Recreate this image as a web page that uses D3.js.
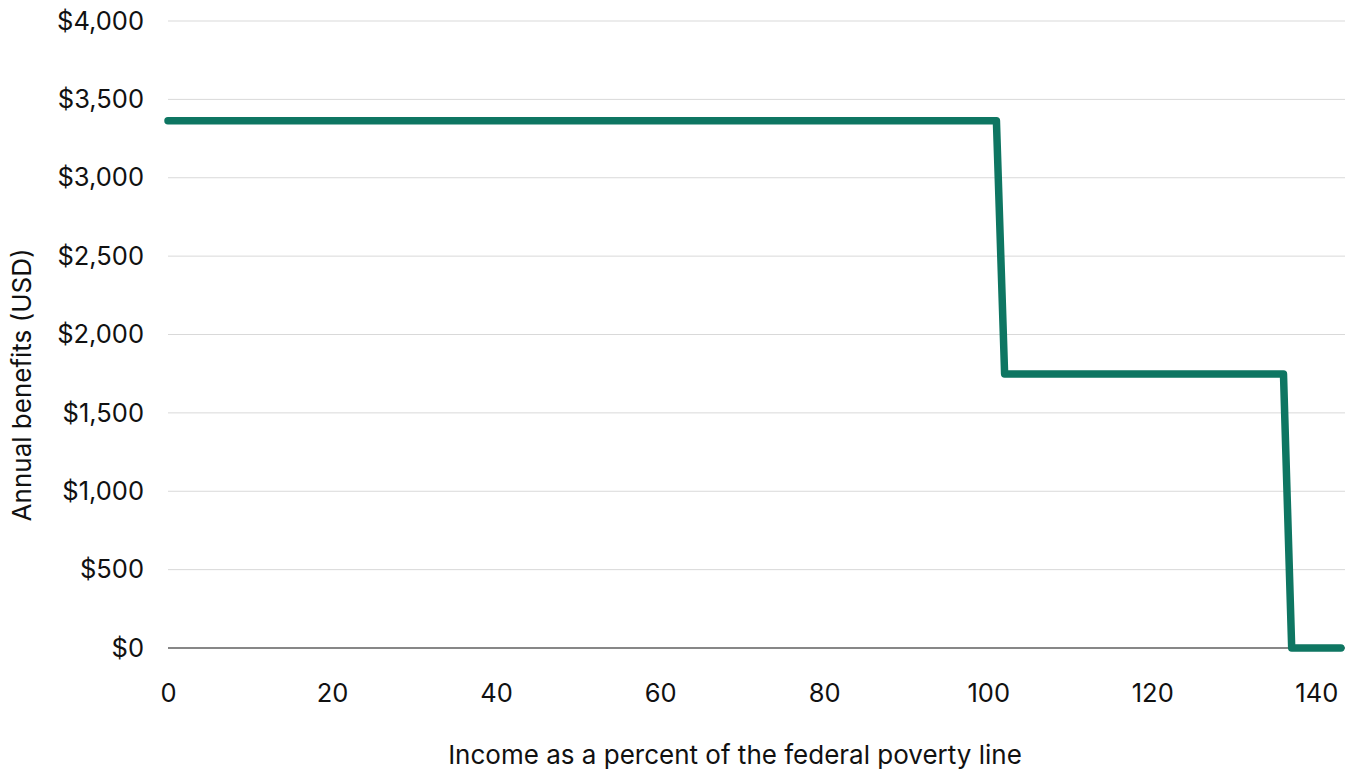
<!DOCTYPE html>
<html>
<head>
<meta charset="utf-8">
<script src="https://cdn.jsdelivr.net/npm/d3@7"></script>
<style>
  body { margin: 0; background: #fff; }
  svg text { font-family: "Inter", "Noto Sans", sans-serif; fill: #111; }
</style>
</head>
<body>
<svg id="chart" width="1349" height="769"></svg>
<script>
// Benefit cliff data: income (% FPL) -> annual benefits (USD)
const incomePct = [0, 101, 102, 136, 137, 143];
const benefits = [3364, 3364, 1748, 1748, 0, 0];
const xTicks = [0, 20, 40, 60, 80, 100, 120, 140];
const yTicks = [0, 500, 1000, 1500, 2000, 2500, 3000, 3500, 4000];

const svg = d3.select("#chart");
const margin = { top: 21, right: 4, bottom: 121, left: 168 };
const width = 1349 - margin.left - margin.right;
const height = 769 - margin.top - margin.bottom;

const g = svg.append("g")
  .attr("transform", `translate(${margin.left},${margin.top})`);

const x = d3.scaleLinear().domain([0, 143.5]).range([0, width]);
const y = d3.scaleLinear().domain([0, 4000]).range([height, 0]);

// gridlines
g.selectAll("line.grid")
  .data(yTicks.filter(d => d > 0))
  .enter().append("line")
  .attr("class", "grid")
  .attr("x1", 0).attr("x2", width)
  .attr("y1", d => y(d)).attr("y2", d => y(d))
  .attr("stroke", "#d9d9d9").attr("stroke-width", 1);

// zero line
g.append("line")
  .attr("x1", 0).attr("x2", width)
  .attr("y1", y(0)).attr("y2", y(0))
  .attr("stroke", "#111").attr("stroke-width", 1.2);

// y axis labels
const yAxis = d3.axisLeft(y).tickValues(yTicks)
  .tickFormat(d => "$" + d3.format(",")(d))
  .tickSize(0).tickPadding(24);
g.append("g").call(yAxis)
  .call(a => a.select(".domain").remove())
  .selectAll("text").attr("font-size", 25.5);

// x axis labels
const xAxis = d3.axisBottom(x).tickValues(xTicks).tickSize(0).tickPadding(36);
g.append("g").attr("transform", `translate(0,${height})`).call(xAxis)
  .call(a => a.select(".domain").remove())
  .selectAll("text").attr("font-size", 25.5);

// the line
const line = d3.line()
  .x((d, i) => x(incomePct[i]))
  .y(d => y(d));

g.append("path")
  .datum(benefits)
  .attr("d", line)
  .attr("fill", "none")
  .attr("stroke", "#0e7662")
  .attr("stroke-width", 7.5)
  .attr("stroke-linejoin", "round")
  .attr("stroke-linecap", "round");

// axis titles
svg.append("text")
  .attr("x", 735).attr("y", 764)
  .attr("text-anchor", "middle")
  .attr("font-size", 26)
  .text("Income as a percent of the federal poverty line");

svg.append("text")
  .attr("transform", "translate(31,385) rotate(-90)")
  .attr("text-anchor", "middle")
  .attr("font-size", 26)
  .text("Annual benefits  (USD)");
</script>
</body>
</html>
